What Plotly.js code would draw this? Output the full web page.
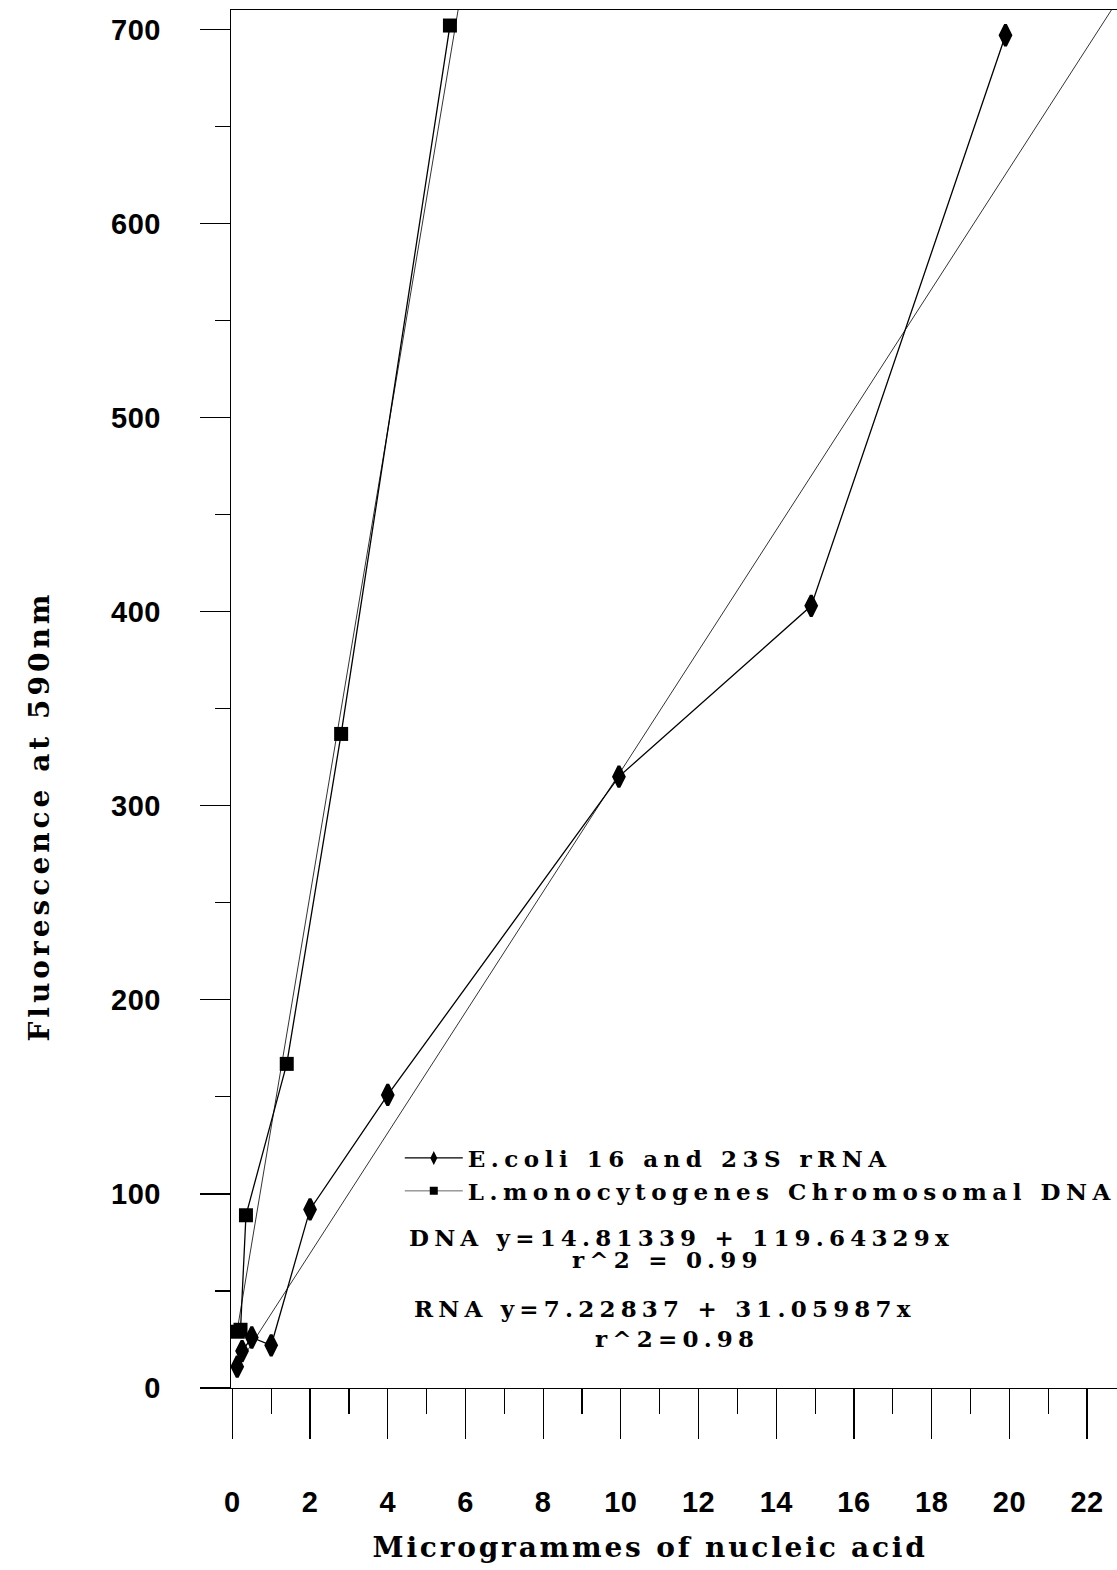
<!DOCTYPE html>
<html>
<head>
<meta charset="utf-8">
<script src="https://cdn.plot.ly/plotly-3.0.1.min.js"></script>
<style>
  html, body { margin: 0; padding: 0; background: #fff; }
  #chart { width: 1117px; height: 1570px; }
  .xtick text, .ytick text { letter-spacing: 0.5px; }
  .legendtext { letter-spacing: 5.5px; }
  .annotation-text { letter-spacing: 5.2px; }
  g.annotation[data-index="4"] .annotation-text { letter-spacing: 2.8px; }
  g.annotation[data-index="5"] .annotation-text { letter-spacing: 4px; }
</style>
</head>
<body>
<div id="chart"></div>
<script>
// E. coli 16S and 23S rRNA (micrograms, fluorescence)
const rnaX = [0.125, 0.25, 0.5, 1, 2, 4, 9.95, 14.9, 19.9];
const rnaY = [11, 19, 26, 22, 92, 151, 315, 403, 697];

// L. monocytogenes chromosomal DNA
const dnaX = [0.14, 0.21, 0.35, 1.4, 2.8, 5.6];
const dnaY = [29, 30, 89, 167, 337, 702];

// Linear fits: [intercept, slope], and r^2
const dnaFitCoef = [14.81339, 119.64329];
const rnaFitCoef = [7.22837, 31.05987];
const dnaR2 = 0.99;
const rnaR2 = 0.98;

// Series names and axis titles
const rnaName = 'E.coli 16 and 23S rRNA';
const dnaName = 'L.monocytogenes Chromosomal DNA';
const xTitle = 'Microgrammes of nucleic acid';
const yTitle = 'Fluorescence at 590nm';

// Axis ranges
const xRange = [-0.035, 22.77];
const yRange = [0, 710];

// Fit line from smallest x to where it leaves the top of the plot
function fitLine(coef, xs) {
  const x0 = Math.min(...xs);
  const x1 = Math.min((yRange[1] - coef[0]) / coef[1], xRange[1]);
  return { x: [x0, x1], y: [coef[0] + coef[1] * x0, coef[0] + coef[1] * x1] };
}
const rnaFit = fitLine(rnaFitCoef, rnaX);
const dnaFit = fitLine(dnaFitCoef, dnaX);

const serif = 'DejaVu Serif, Liberation Serif, serif';
const sans = 'Liberation Sans Narrow, Liberation Sans, Arial, sans-serif';

const traces = [
  { x: rnaFit.x, y: rnaFit.y, mode: 'lines', showlegend: false, hoverinfo: 'skip',
    line: { color: '#333', width: 1 } },
  { x: dnaFit.x, y: dnaFit.y, mode: 'lines', showlegend: false, hoverinfo: 'skip',
    line: { color: '#333', width: 1 } },
  { x: rnaX, y: rnaY, mode: 'lines+markers', showlegend: false, name: rnaName,
    line: { color: '#000', width: 1.3 },
    marker: { symbol: 'diamond-tall', size: 15, color: '#000', line: { color: '#000', width: 3 } } },
  { x: dnaX, y: dnaY, mode: 'lines+markers', showlegend: false, name: dnaName,
    line: { color: '#000', width: 1.3 },
    marker: { symbol: 'square', size: 14, color: '#000' } },
  // legend entries
  { x: [null], y: [null], mode: 'lines+markers', name: rnaName, legendgroup: 'rna',
    line: { color: '#000', width: 1.2 },
    marker: { symbol: 'diamond-tall', size: 10, color: '#000' } },
  { x: [null], y: [null], mode: 'lines+markers', name: dnaName, legendgroup: 'dna',
    line: { color: '#666', width: 1 },
    marker: { symbol: 'square', size: 8, color: '#000' } }
];

const eqFont = { family: serif, size: 23, weight: 700, color: '#000' };
const titleFont = { family: serif, size: 28, weight: 700, color: '#000' };

const layout = {
  width: 1117,
  height: 1570,
  margin: { l: 231, r: 0, t: 10, b: 182, pad: 0, autoexpand: false },
  paper_bgcolor: '#fff',
  plot_bgcolor: '#fff',
  showlegend: true,
  legend: {
    x: 0.1905, y: 0.1825, xanchor: 'left', yanchor: 'top',
    bgcolor: 'rgba(0,0,0,0)', borderwidth: 0,
    font: { family: serif, size: 23, weight: 700, color: '#000' },
    itemwidth: 58, traceorder: 'grouped', tracegroupgap: 0
  },
  xaxis: {
    range: xRange, tick0: 0, dtick: 2,
    ticks: 'outside', ticklen: 50, tickwidth: 1.2, tickcolor: '#000',
    showline: true, linecolor: '#000', linewidth: 1.2, mirror: true,
    showgrid: false, zeroline: false,
    ticklabelstandoff: 38,
    tickfont: { family: sans, size: 29, weight: 700, color: '#000' },
    minor: { dtick: 1, tick0: 0, ticks: 'outside', ticklen: 25, tickwidth: 1.2, tickcolor: '#000', showgrid: false }
  },
  yaxis: {
    range: yRange, tick0: 0, dtick: 100,
    ticks: 'outside', ticklen: 30, tickwidth: 1.2, tickcolor: '#000',
    showline: true, linecolor: '#000', linewidth: 1.2,
    showgrid: false, zeroline: false,
    ticklabelstandoff: 33,
    tickfont: { family: sans, size: 29, weight: 700, color: '#000' },
    minor: { dtick: 50, tick0: 0, ticks: 'outside', ticklen: 15, tickwidth: 1.2, tickcolor: '#000', showgrid: false }
  },
  annotations: [
    { x: 4.5, y: 77.8, xref: 'x', yref: 'y', xanchor: 'left', yanchor: 'middle', showarrow: false,
      text: 'DNA y=' + dnaFitCoef[0] + ' + ' + dnaFitCoef[1] + 'x', font: eqFont },
    { x: 11.2, y: 66.2, xref: 'x', yref: 'y', xanchor: 'center', yanchor: 'middle', showarrow: false,
      text: 'r^2 = ' + dnaR2, font: eqFont },
    { x: 4.62, y: 41.2, xref: 'x', yref: 'y', xanchor: 'left', yanchor: 'middle', showarrow: false,
      text: 'RNA y=' + rnaFitCoef[0] + ' + ' + rnaFitCoef[1] + 'x', font: eqFont },
    { x: 11.45, y: 25.5, xref: 'x', yref: 'y', xanchor: 'center', yanchor: 'middle', showarrow: false,
      text: 'r^2=' + rnaR2, font: eqFont },
    // axis titles
    { x: 0.4729, y: -0.1154, xref: 'paper', yref: 'paper', xanchor: 'center', yanchor: 'middle',
      showarrow: false, text: xTitle, font: titleFont },
    { x: -0.2167, y: 0.415, xref: 'paper', yref: 'paper', xanchor: 'center', yanchor: 'middle',
      showarrow: false, textangle: -90, text: yTitle, font: titleFont }
  ]
};

Plotly.newPlot('chart', traces, layout, { displayModeBar: false, staticPlot: true });
</script>
</body>
</html>
